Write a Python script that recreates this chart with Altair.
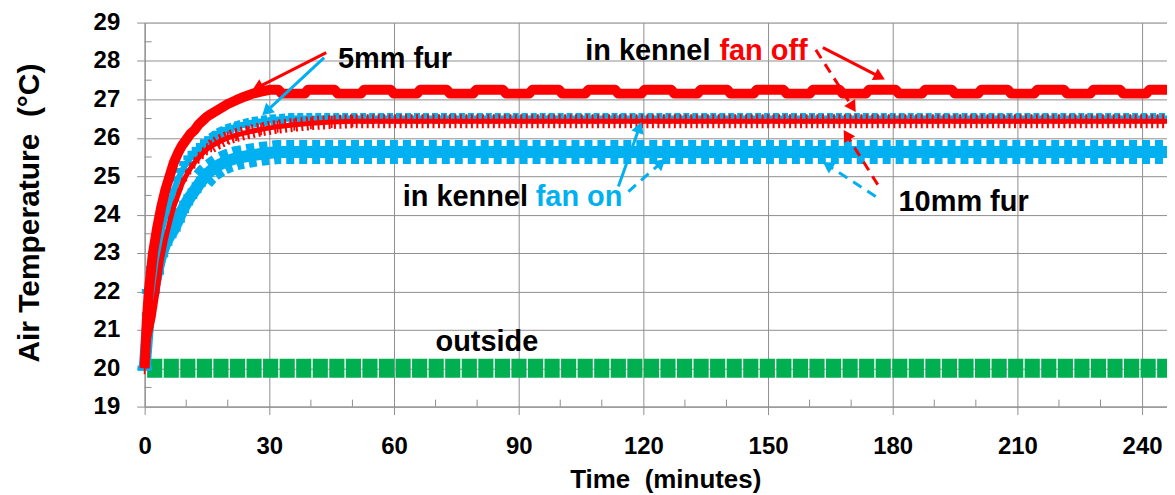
import math
import altair as alt
import pandas as pd

# ---------------- data ----------------
T_END = 246
# 5 mm fur, kennel fan off (thick red)
red5_time = [0, 0.5, 1, 2, 3, 4, 5, 6, 7, 8, 9, 10, 11, 12, 13, 14, 15, 16, 18, 20, 22, 24, 26, 28, 30]
red5_temp = [20.0, 21.2, 22.0, 23.0, 23.65, 24.2, 24.65, 25.0, 25.35, 25.6, 25.8, 25.95, 26.1, 26.2,
             26.35, 26.45, 26.55, 26.62, 26.75, 26.88, 26.98, 27.07, 27.15, 27.2, 27.25]
red5_high = 27.25
red5_low = 27.15
red5_dip_start = [33, 46.5, 60, 73.5, 87, 100.5, 114, 127.5, 141, 154.5, 168, 181.5, 195, 208.5, 222, 235.5]
red5_dip_len = 5.5

# 10 mm fur, kennel fan off (thin red with + markers)
red10_time = [0, 1, 2, 3, 4, 5, 6, 7, 8, 9, 10, 11, 12, 13, 14, 15, 16, 18, 20, 22, 25, 28, 32, 36, 40, 45, 50]
red10_temp = [20.0, 20.8, 21.3, 22.0, 22.8, 23.35, 23.8, 24.2, 24.5, 24.8, 25.02, 25.2, 25.35, 25.48, 25.6,
              25.7, 25.78, 25.9, 26.0, 26.07, 26.15, 26.22, 26.29, 26.34, 26.38, 26.41, 26.43]
red10_plateau = 26.43

# 5 mm fur, kennel fan on (upper blue)
blue5_time = [0, 1, 2, 3, 4, 5, 6, 7, 8, 9, 10, 11, 12, 13, 14, 15, 16, 18, 20, 23, 26, 30, 35]
blue5_temp = [20.0, 22.0, 22.6, 23.1, 23.55, 23.95, 24.3, 24.62, 24.92, 25.15, 25.33, 25.48, 25.6, 25.7,
              25.8, 25.9, 25.98, 26.12, 26.22, 26.32, 26.4, 26.46, 26.5]
blue5_plateau = 26.5

# 10 mm fur, kennel fan on (lower blue)
blue10_time = [0, 1, 2, 3, 4, 5, 6, 7, 8, 9, 10, 11, 12, 13, 14, 15, 16, 18, 20, 22, 25, 28, 32]
blue10_temp = [20.0, 21.4, 22.0, 22.5, 22.95, 23.25, 23.45, 23.62, 23.85, 24.1, 24.3, 24.47, 24.62, 24.78,
               24.92, 25.05, 25.15, 25.3, 25.4, 25.47, 25.53, 25.58, 25.63]
blue10_plateau = 25.63

# outside air
outside_time = [0.6, 246]
outside_temp = [20.0, 20.0]

# annotations (minutes, deg C)
ann_text = ["5mm fur", "in kennel", "fan off", "in kennel", "fan on", "10mm fur", "outside"]
ann_color = ["#000000", "#000000", "#FF0000", "#000000", "#00B0F0", "#000000", "#000000"]
ann_time = [46.5, 106.0, 138.3, 62.1, 94.1, 181.4, 70.0]
ann_temp = [28.04, 28.27, 28.27, 24.47, 24.47, 24.34, 20.67]

arrow_x0 = [43.7, 43.2, 163.2, 161.5, 176.4, 175.9, 114.0, 116.4]
arrow_y0 = [28.22, 28.09, 28.35, 28.29, 24.78, 24.47, 24.73, 24.60]
arrow_x1 = [25.9, 28.3, 178.1, 171.1, 168.2, 163.2, 119.5, 125.3]
arrow_y1 = [27.24, 26.59, 27.52, 26.67, 26.20, 25.37, 26.41, 25.45]
arrow_color = ["#FF0000", "#00B0F0", "#FF0000", "#FF0000", "#FF0000", "#00B0F0", "#00B0F0", "#00B0F0"]
arrow_dashed = [False, False, False, True, True, True, False, True]

x_ticks = [0, 30, 60, 90, 120, 150, 180, 210, 240]
y_ticks = [19, 20, 21, 22, 23, 24, 25, 26, 27, 28, 29]

# ---------------- layout / style ----------------
W, H = 1025, 385
PX_MIN = W / T_END
PX_DEG = H / 10.0
RED = "#FF0000"
BLUE = "#00B0F0"
GREEN = "#00B050"
GRID = "#8f8f8f"
FONT = "Liberation Sans"

xs = alt.Scale(domain=[0, T_END], nice=False, zero=False)
ys = alt.Scale(domain=[19, 29], nice=False, zero=False)

xaxis = alt.Axis(values=x_ticks, title="Time\u00a0 (minutes)", grid=True, gridColor=GRID, gridWidth=1,
                 tickColor=GRID, domainColor=GRID, tickSize=8, labelPadding=20, labelFont=FONT,
                 labelFontSize=24, labelFontWeight="bold", labelColor="black", labelFlush=False,
                 labelOverlap=False, titleFont=FONT, titleFontSize=26, titleFontWeight="bold",
                 titleColor="black", titleX=522, titleY=73, titleBaseline="middle")
yaxis = alt.Axis(values=y_ticks, title="Air Temperature\u00a0 (°C)", grid=True, gridColor=GRID, gridWidth=1,
                 tickColor=GRID, domainColor=GRID, tickSize=8, labelPadding=17, labelFont=FONT,
                 labelFontSize=24, labelFontWeight="bold", labelColor="black", labelOverlap=False,
                 titleFont=FONT, titleFontSize=30, titleFontWeight="bold", titleColor="black",
                 titleX=-115, titleY=H / 2 - 2, titleBaseline="middle", titleAngle=270)

X = alt.X("t:Q", scale=xs, axis=xaxis)
Y = alt.Y("v:Q", scale=ys, axis=yaxis)


def frame(times, temps, end_val=None):
    t = list(times)
    v = list(temps)
    if end_val is not None:
        t.append(T_END)
        v.append(end_val)
    return pd.DataFrame({"t": t, "v": v})


red5_t = list(red5_time)
red5_v = list(red5_temp)
for s in red5_dip_start:
    red5_t += [s - 0.8, s, s + red5_dip_len, s + red5_dip_len + 0.8]
    red5_v += [red5_high, red5_low, red5_low, red5_high]
df_red5 = frame(red5_t, red5_v, red5_high)
df_red10 = frame(red10_time, red10_temp, red10_plateau)
df_blue5 = frame(blue5_time, blue5_temp, blue5_plateau)
df_blue10 = frame(blue10_time, blue10_temp, blue10_plateau)
df_out = frame(outside_time, outside_temp)
df_red10_pts = frame(red10_time, red10_temp)
df_blue5_pts = frame(blue5_time, blue5_temp)
df_blue10_pts = frame(blue10_time, blue10_temp)
# marker texture along the flat part only
df_red10_flat = df_red10[df_red10.t >= 16]
df_blue5_flat = df_blue5[df_blue5.t >= 16]
df_blue10_flat = df_blue10[df_blue10.t >= 14]

# minor ticks
x_minor = pd.DataFrame({"t": [m for m in range(10, T_END, 10) if m % 30]})
y_minor = pd.DataFrame({"v": [y + 0.5 for y in y_ticks[:-1]]})

# arrows
HEAD = 170
h = math.sqrt(3) / 2 * math.sqrt(HEAD) / 2
rows, heads = [], []
for x0, y0, x1, y1, c, d in zip(arrow_x0, arrow_y0, arrow_x1, arrow_y1, arrow_color, arrow_dashed):
    dx = (x1 - x0) * PX_MIN
    dy = -(y1 - y0) * PX_DEG
    L = math.hypot(dx, dy)
    ux, uy = dx / L, dy / L
    cx = x1 - h * ux / PX_MIN
    cy = y1 + h * uy / PX_DEG
    ang = math.degrees(math.atan2(dx, -dy)) % 360
    rows.append({"t": x0, "v": y0, "t2": cx, "v2": cy, "color": c, "dashed": d})
    heads.append({"t": cx, "v": cy, "angle": ang, "color": c})
df_arrows = pd.DataFrame(rows)
df_heads = pd.DataFrame(heads)
df_ann = pd.DataFrame({"t": ann_time, "v": ann_temp, "text": ann_text, "color": ann_color})

layers = []

layers.append(alt.Chart(df_out).mark_line(color=GREEN, strokeWidth=19, strokeDash=[15.2, 1.4])
              .encode(x=X, y=Y))

layers.append(alt.Chart(x_minor).mark_rule(color=GRID, strokeWidth=1)
              .encode(x=X, y=alt.value(H), y2=alt.value(H - 7)))
layers.append(alt.Chart(y_minor).mark_rule(color=GRID, strokeWidth=1)
              .encode(y=Y, x=alt.value(0), x2=alt.value(7)))

DASH = "M-1,-0.35L1,-0.35L1,0.35L-1,0.35Z"
PLUS = "M-0.15,-1L0.15,-1L0.15,1L-0.15,1Z"

# lower blue (10mm, fan on)
layers.append(alt.Chart(df_blue10).mark_line(color=BLUE, strokeWidth=12, strokeJoin="round").encode(x=X, y=Y))
layers.append(alt.Chart(df_blue10_flat).mark_line(color=BLUE, strokeWidth=24, strokeDash=[8, 5]).encode(x=X, y=Y))
layers.append(alt.Chart(df_blue10_pts).mark_point(shape=DASH, filled=True, size=196, color=BLUE, opacity=1)
              .encode(x=X, y=Y))

# upper blue (5mm, fan on)
layers.append(alt.Chart(df_blue5).mark_line(color=BLUE, strokeWidth=6, strokeJoin="round").encode(x=X, y=Y))
layers.append(alt.Chart(df_blue5_flat).mark_line(color=BLUE, strokeWidth=11, strokeDash=[6, 3]).encode(x=X, y=Y))
layers.append(alt.Chart(df_blue5_pts).mark_point(shape=DASH, filled=True, size=196, color=BLUE, opacity=1)
              .encode(x=X, y=Y))

# thin red (10mm, fan off)
layers.append(alt.Chart(df_red10).mark_line(color=RED, strokeWidth=5, strokeJoin="round").encode(x=X, y=Y))
layers.append(alt.Chart(df_red10_flat).mark_line(color=RED, strokeWidth=14, strokeDash=[2, 3.5]).encode(x=X, y=Y))
layers.append(alt.Chart(df_red10_pts).mark_point(shape=PLUS, filled=True, size=144, color=RED, opacity=1)
              .encode(x=X, y=Y))

# thick red (5mm, fan off)
layers.append(alt.Chart(df_red5).mark_line(color=RED, strokeWidth=10, strokeJoin="round").encode(x=X, y=Y))

# arrows
layers.append(alt.Chart(df_arrows).transform_filter("!datum.dashed").mark_rule(strokeWidth=3)
              .encode(x=X, y=Y, x2="t2:Q", y2="v2:Q", color=alt.Color("color:N", scale=None)))
layers.append(alt.Chart(df_arrows).transform_filter("datum.dashed").mark_rule(strokeWidth=3, strokeDash=[10, 7])
              .encode(x=X, y=Y, x2="t2:Q", y2="v2:Q", color=alt.Color("color:N", scale=None)))
layers.append(alt.Chart(df_heads).mark_point(shape="triangle-up", filled=True, size=HEAD, opacity=1)
              .encode(x=X, y=Y, angle=alt.Angle("angle:Q", scale=None), color=alt.Color("color:N", scale=None)))

# annotation text
layers.append(alt.Chart(df_ann).mark_text(align="left", baseline="middle", font=FONT, fontSize=29,
                                          fontWeight="bold")
              .encode(x=X, y=Y, text="text:N", color=alt.Color("color:N", scale=None)))

chart = (alt.layer(*layers)
         .properties(width=W, height=H, autosize=alt.AutoSizeParams(type="none"),
                     padding={"left": 137, "top": 14, "right": 0, "bottom": 86})
         .configure_view(stroke=None)
         .configure(background="white"))

chart.save("out.html", embed_options={"renderer": "svg", "actions": False})
